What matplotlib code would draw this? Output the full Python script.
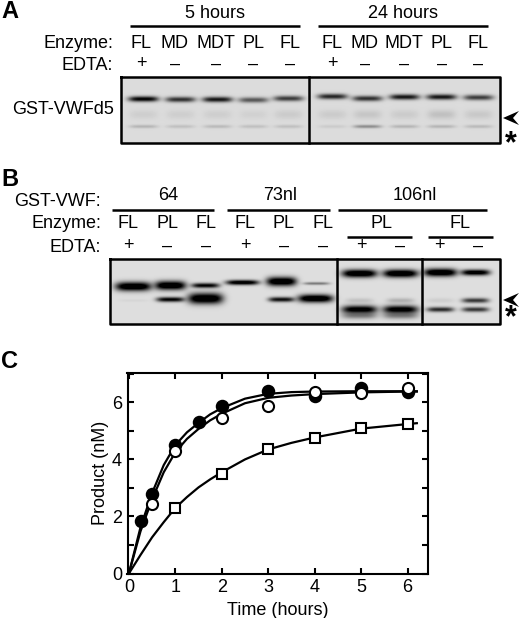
#!/usr/bin/env python
import numpy as np
import matplotlib
matplotlib.use("Agg")
import matplotlib.pyplot as plt
from matplotlib.patches import Polygon

plt.rcParams["font.family"] = ["Liberation Sans", "DejaVu Sans"]

# Panel A
enzymes_a = ["FL", "MD", "MDT", "PL", "FL", "FL", "MD", "MDT", "PL", "FL"]
edta_a = ["+", "\u2013", "\u2013", "\u2013", "\u2013", "+", "\u2013", "\u2013", "\u2013", "\u2013"]
main_a = [0.8, 0.62, 0.72, 0.48, 0.58, 0.66, 0.62, 0.72, 0.72, 0.58]
mid_a = [0.05, 0.05, 0.05, 0.04, 0.06, 0.06, 0.08, 0.06, 0.1, 0.07]
low_a = [0.14, 0.1, 0.12, 0.1, 0.1, 0.06, 0.28, 0.14, 0.14, 0.12]

# Panel B
enzymes_b = ["FL", "PL", "FL", "FL", "PL", "FL"]
enzymes_b2 = ["PL", "FL"]
constructs_b = ["64", "73nl", "106nl"]
edta_b = ["+", "\u2013", "\u2013", "+", "\u2013", "\u2013", "+", "\u2013", "+", "\u2013"]
upper_b = [1.0, 1.0, 0.8, 0.9, 1.0, 0.35, 1.0, 1.0, 1.0, 0.9]
lower_b = [0.03, 0.8, 1.0, 0.0, 0.75, 1.0, 0.9, 0.9, 0.65, 0.6]
faint_b = [0.0, 0.0, 0.0, 0.0, 0.0, 0.0, 0.1, 0.16, 0.06, 0.6]

# Panel C
time_closed = [0.25, 0.5, 1, 1.5, 2, 3, 4, 5, 6]
product_closed = [1.85, 2.78, 4.5, 5.3, 5.87, 6.4, 6.22, 6.49, 6.35]
time_open = [0.5, 1, 2, 3, 4, 5, 6]
product_open = [2.45, 4.29, 5.44, 5.88, 6.35, 6.32, 6.52]
time_square = [1, 2, 3, 4, 5, 6]
product_square = [2.31, 3.5, 4.38, 4.74, 5.11, 5.24]

fit_time = [0, 0.25, 0.5, 0.75, 1, 1.25, 1.5, 1.75, 2, 2.5, 3, 3.5, 4, 5, 6, 6.2]
fit_closed = [0, 1.62, 2.82, 3.8, 4.5, 4.95, 5.28, 5.58, 5.8, 6.13, 6.3, 6.36, 6.38, 6.39, 6.39, 6.39]
fit_open = [0, 1.48, 2.6, 3.55, 4.25, 4.72, 5.07, 5.37, 5.6, 5.97, 6.16, 6.24, 6.29, 6.35, 6.38, 6.38]
fit_square = [0, 0.65, 1.27, 1.8, 2.3, 2.68, 3.02, 3.3, 3.55, 4.0, 4.35, 4.58, 4.77, 5.08, 5.24, 5.27]

W, H = 520, 618
TXT = 13
fig = plt.figure(figsize=(W / 100, H / 100), dpi=100)
page = fig.add_axes([0, 0, 1, 1])
page.set_xlim(0, W)
page.set_ylim(H, 0)
page.axis("off")


def add_band(img, x0, y0, x, y, w, h, dark):
    # soft gel band, pixel coordinates of the page
    yy, xx = np.mgrid[0:img.shape[0], 0:img.shape[1]]
    px = np.exp(-np.abs((xx + x0 - x) / (w / 2)) ** 4)
    py = np.exp(-(((yy + y0 - y) / (h / 2)) ** 2))
    img *= 1 - np.clip(1.25 * dark * px * py, 0, 1)


def label(x, y, s, ha="center", size=TXT, **kw):
    page.text(x, y, s, ha=ha, va="center", fontsize=size, color="black", **kw)


def rule(x1, x2, y, lw=1.8):
    page.plot([x1, x2], [y, y], color="black", lw=lw, solid_capstyle="butt")


def gel_box(x1, x2, y1, y2, dividers):
    page.plot([x1, x2, x2, x1, x1], [y1, y1, y2, y2, y1], color="black", lw=1.8)
    for d in dividers:
        page.plot([d, d], [y1, y2], color="black", lw=1.8)


def marker_pointer(y):
    page.add_patch(Polygon([[519, y - 7], [503, y], [519, y + 7], [513, y]],
                           closed=True, color="black", lw=0))


# --- A ---
label(1, 11, "A", ha="left", size=17, fontweight="bold")
label(215, 14, "5 hours")
label(403, 14, "24 hours")
rule(130, 300, 26)
rule(318, 488, 26)
label(113, 43, "Enzyme:", ha="right")
label(113, 65, "EDTA:", ha="right")
label(114, 110, "GST-VWFd5", ha="right")
lanes_a = [141, 175, 216, 253, 290, 332, 365, 404, 442, 478]
for x, e in zip(lanes_a, enzymes_a):
    label(x, 43, e)
for x, s in zip(lanes_a, edta_a):
    label(x, 64, s)

x0, x1, y0, y1 = 121, 500, 77, 143
gel = np.full((y1 - y0, x1 - x0), 0.86)
band_x = [143, 180, 217, 253, 288, 332, 367, 404, 441, 478]
band_y = [98.5, 99, 99, 99.5, 98, 96, 98, 96.5, 96.5, 97]
for x, y, a, b, c in zip(band_x, band_y, main_a, mid_a, low_a):
    add_band(gel, x0, y0, x, y, 30, 5.5, a)
    add_band(gel, x0, y0, x, 114, 28, 9, b)
    add_band(gel, x0, y0, x, 126, 28, 3.5, c)
page.imshow(gel, extent=(x0, x1, y1, y0), cmap="gray", vmin=0, vmax=1, aspect="auto", zorder=0)
gel_box(x0, x1, y0, y1, [309])
marker_pointer(118)
label(511, 144, "*", size=22, fontweight="bold")

# --- B ---
label(1, 179, "B", ha="left", size=17, fontweight="bold")
label(101, 201, "GST-VWF:", ha="right")
label(101, 224, "Enzyme:", ha="right")
label(101, 247, "EDTA:", ha="right")
for x, c in zip([168, 280, 415], constructs_b):
    label(x, 196, c)
rule(112, 214, 210)
rule(227, 330, 210)
rule(338, 487, 210)
for x, e in zip([128, 167, 206, 245, 284, 323], enzymes_b):
    label(x, 224, e)
for x, e in zip([382, 460], enzymes_b2):
    label(x, 224, e)
rule(347, 412, 237)
rule(428, 493, 237)
for x, s in zip([128, 167, 206, 245, 284, 323, 361, 400, 439, 478], edta_b):
    label(x, 246, s)

x0, x1, y0, y1 = 110, 500, 259, 324
gel = np.full((y1 - y0, x1 - x0), 0.87)
up_x = [133, 170, 205, 242, 281, 316, 359, 400, 440, 475]
up_y = [286, 285, 285, 282, 281, 283, 273, 273, 272, 272]
up_w = [36, 31, 28, 33, 30, 26, 35, 35, 33, 29]
up_h = [9, 9, 5, 5, 9, 3, 8, 8, 8, 6]
low_x = [133, 170, 205, 242, 281, 315, 359, 400, 440, 475]
low_y = [300, 299, 298, 299, 299, 298, 309, 309, 309, 309]
low_w = [30, 28, 35, 10, 26, 35, 35, 35, 27, 27]
low_h = [3, 5, 11, 2, 5, 8, 8, 8, 5, 5]
for i in range(10):
    add_band(gel, x0, y0, up_x[i], up_y[i], up_w[i], up_h[i], upper_b[i])
    add_band(gel, x0, y0, low_x[i], low_y[i], low_w[i], low_h[i], lower_b[i])
    if faint_b[i] > 0:
        add_band(gel, x0, y0, low_x[i], 300, 27, 5, faint_b[i])
    if i in (6, 7):
        add_band(gel, x0, y0, low_x[i], 315, 35, 7, 0.35)
page.imshow(gel, extent=(x0, x1, y1, y0), cmap="gray", vmin=0, vmax=1, aspect="auto", zorder=0)
gel_box(x0, x1, y0, y1, [337, 422])
marker_pointer(300)
label(511, 318, "*", size=22, fontweight="bold")

page.set_xlim(0, W)
page.set_ylim(H, 0)

# --- C ---
label(1, 361, "C", ha="left", size=17, fontweight="bold")
ax = fig.add_axes([127.5 / W, 1 - 573.5 / H, 300 / W, 200.5 / H])
ax.plot(fit_time, fit_closed, color="black", lw=1.6)
ax.plot(fit_time, fit_open, color="black", lw=1.6)
ax.plot(fit_time, fit_square, color="black", lw=1.6)
ax.plot(time_closed, product_closed, "o", ms=8.5, mfc="black", mec="black", mew=1.2, clip_on=False)
ax.plot(time_open, product_open, "o", ms=8, mfc="white", mec="black", mew=1.5, clip_on=False)
ax.plot(time_square, product_square, "s", ms=7.5, mfc="white", mec="black", mew=1.5, clip_on=False)
ax.set_xlim(-0.03, 6.43)
ax.set_ylim(0, 7.03)
ax.set_xticks(range(7))
ax.set_yticks(range(8))
ax.set_yticklabels(["0", "", "2", "", "4", "", "6", ""])
ax.tick_params(direction="in", top=True, right=True, length=4, width=1.5, labelsize=13, pad=4)
for s in ax.spines.values():
    s.set_linewidth(1.5)
ax.set_xlabel("Time (hours)", fontsize=13, labelpad=4)
ax.set_ylabel("Product (nM)", fontsize=13, labelpad=2)

fig.savefig("out.png", dpi=100)
